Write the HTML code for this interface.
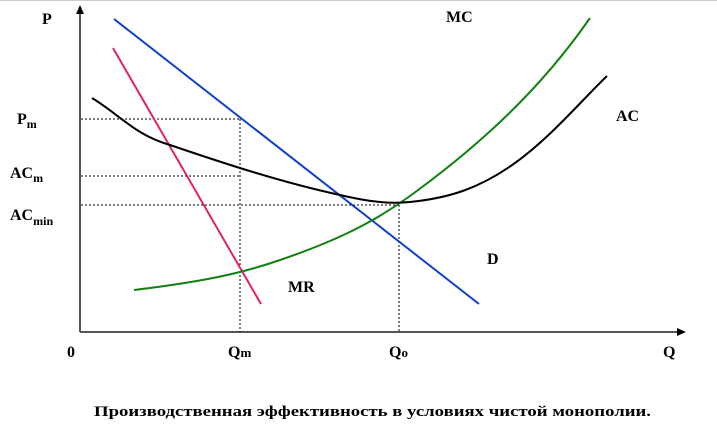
<!DOCTYPE html>
<html><head><meta charset="utf-8"><style>
body{margin:0;background:#fff;}
svg{display:block;font-family:"Liberation Serif",serif;font-weight:bold;}
</style></head><body>
<svg width="717" height="447" viewBox="0 0 717 447">
<line x1="0" y1="0.5" x2="717" y2="0.5" stroke="#ccc"/>
<line x1="80" y1="332" x2="80" y2="14" stroke="#555" stroke-width="2"/>
<polygon points="80,5 76,14 84,14" fill="#000"/>
<line x1="80" y1="332" x2="678" y2="332" stroke="#555" stroke-width="2"/>
<polygon points="686,332 677,328 677,336" fill="#000"/>
<g stroke="#000" stroke-width="1" stroke-dasharray="2,2" fill="none">
<line x1="81" y1="119" x2="240" y2="119"/>
<line x1="240" y1="119" x2="240" y2="332"/>
<line x1="81" y1="176" x2="240" y2="176"/>
<line x1="81" y1="205" x2="399" y2="205"/>
<line x1="399" y1="205" x2="399" y2="332"/>
</g>
<line x1="114" y1="19" x2="479" y2="304" stroke="#1040c8" stroke-width="2"/>
<line x1="113" y1="48" x2="261" y2="304" stroke="#e0206a" stroke-width="2"/>
<path d="M134,290 C200,282 240,274 280,260 C330,243 370,225 410,196 C480,145 540,90 590,18" stroke="#108010" stroke-width="2" fill="none"/>
<path d="M92,98 C120,115 135,135 170,145 C220,162 280,182 340,195 C370,202 390,204 410,202 C450,198 480,188 515,163 C550,138 580,102 607,76" stroke="#000" stroke-width="2" fill="none"/>
<g font-size="16">
<text x="42" y="24">P</text>
<text x="446" y="22">MC</text>
<text x="616" y="121">AC</text>
<text x="487" y="264">D</text>
<text x="288" y="292">MR</text>
<text x="67" y="357">0</text>
<text x="663" y="357">Q</text>
<text x="17" y="124">P<tspan font-size="12" dy="4">m</tspan></text>
<text x="10" y="178">AC<tspan font-size="12" dy="4">m</tspan></text>
<text x="10" y="220">AC<tspan font-size="12" dy="5">min</tspan></text>
<text x="228" y="357">Q<tspan font-size="13">m</tspan></text>
<text x="389" y="357">Q<tspan font-size="13">o</tspan></text>
<text x="94" y="416" font-size="15" textLength="557" lengthAdjust="spacingAndGlyphs">Производственная эффективность в условиях чистой монополии.</text>
</g>
</svg>
</body></html>
